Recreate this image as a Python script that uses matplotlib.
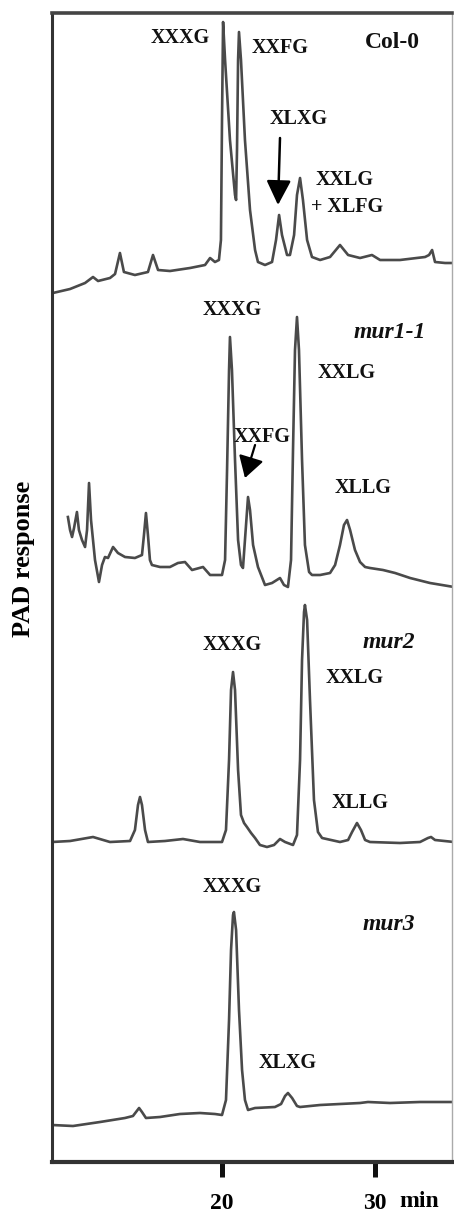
import numpy as np
import matplotlib
matplotlib.use('Agg')
from matplotlib import pyplot as plt

plt.rcParams['font.family'] = ['Liberation Serif', 'DejaVu Serif']
plt.rcParams['font.weight'] = 'bold'

# retention time (min) and PAD response (stacked, arbitrary units)
col0_t = [8.95, 10.07, 11.05, 11.57, 11.90, 12.68, 13.01, 13.33, 13.59, 14.31, 15.16, 15.49, 15.82,
          16.60, 17.91, 18.89, 19.22, 19.54, 19.80, 19.93, 20.00, 20.07, 20.20, 20.52, 20.85, 20.92,
          20.98, 21.05, 21.11, 21.24, 21.50, 21.83, 22.16, 22.35, 22.81, 23.27, 23.53, 23.73, 23.92,
          24.25, 24.44, 24.71, 24.90, 25.10, 25.29, 25.56, 25.88, 26.41, 27.06, 27.71, 28.24, 29.02,
          29.80, 30.33, 31.63, 33.27, 33.53, 33.73, 33.92, 34.58, 35.16]
col0_y = [869, 873, 879, 885, 881, 884, 888, 909, 890, 887, 890, 907, 892,
          891, 894, 897, 904, 900, 902, 922, 1042, 1140, 1102, 1022, 967, 962,
          1012, 1102, 1130, 1102, 1022, 952, 912, 900, 897, 900, 922, 947, 927,
          907, 907, 927, 967, 984, 962, 922, 905, 902, 905, 917, 907, 904,
          907, 902, 902, 905, 907, 912, 900, 899, 899]

mur1_t = [9.93, 10.07, 10.20, 10.33, 10.52, 10.65, 10.85, 11.05, 11.18, 11.31, 11.44, 11.70, 11.96,
          12.16, 12.35, 12.55, 12.88, 13.20, 13.66, 14.31, 14.77, 14.90, 15.03, 15.16, 15.29, 15.42,
          15.95, 16.60, 17.12, 17.58, 18.04, 18.76, 19.22, 20.00, 20.20, 20.33, 20.46, 20.52, 20.65,
          20.85, 21.05, 21.24, 21.37, 21.50, 21.70, 21.83, 22.03, 22.35, 22.81, 23.27, 23.79, 24.05,
          24.31, 24.51, 24.64, 24.77, 24.90, 25.03, 25.23, 25.42, 25.69, 25.88, 26.41, 27.06, 27.39,
          27.71, 27.97, 28.17, 28.37, 28.69, 29.02, 29.35, 29.67, 30.52, 31.31, 32.29, 33.59, 35.16]
mur1_y = [645, 632, 625, 634, 650, 632, 622, 615, 632, 679, 642, 602, 580,
          597, 605, 604, 615, 609, 605, 604, 607, 627, 649, 627, 602, 597,
          595, 595, 599, 600, 592, 595, 587, 587, 602, 692, 792, 825, 792,
          702, 622, 597, 594, 622, 665, 652, 617, 595, 577, 579, 584, 577,
          575, 602, 712, 812, 845, 812, 702, 617, 590, 587, 587, 589, 597,
          617, 637, 642, 632, 612, 600, 595, 594, 592, 589, 584, 579, 575]

mur2_t = [8.89, 10.07, 11.57, 12.68, 13.99, 14.31, 14.51, 14.64, 14.77, 14.97, 15.16, 16.27, 17.45,
          18.56, 20.00, 20.26, 20.46, 20.59, 20.72, 20.85, 21.05, 21.24, 21.44, 21.63, 21.90, 22.16,
          22.48, 22.94, 23.40, 23.79, 24.12, 24.64, 24.90, 25.10, 25.23, 25.36, 25.42, 25.56, 25.75,
          26.01, 26.27, 26.54, 27.71, 28.24, 28.50, 28.82, 29.08, 29.35, 29.67, 31.63, 32.94, 33.46,
          33.66, 33.92, 35.16]
mur2_y = [320, 321, 325, 320, 321, 332, 357, 365, 357, 332, 320, 321, 323,
          320, 320, 332, 402, 472, 490, 472, 392, 347, 339, 335, 329, 324,
          317, 315, 317, 323, 320, 317, 327, 402, 502, 550, 557, 542, 462,
          362, 330, 324, 320, 322, 330, 339, 332, 322, 320, 319, 320, 324,
          325, 322, 320]

mur3_t = [8.89, 10.26, 12.03, 13.66, 14.18, 14.38, 14.58, 14.77, 15.03, 15.95, 17.25, 18.56, 19.54,
          20.00, 20.26, 20.46, 20.59, 20.72, 20.78, 20.92, 21.11, 21.31, 21.50, 21.70, 22.16, 23.46,
          23.86, 24.12, 24.31, 24.58, 24.90, 25.10, 26.41, 27.71, 29.02, 29.54, 30.98, 32.94, 35.16]
mur3_y = [37, 36, 40, 44, 46, 50, 54, 50, 44, 45, 48, 49, 48,
          47, 62, 142, 212, 247, 250, 232, 152, 92, 62, 52, 54, 55,
          58, 66, 69, 64, 56, 55, 57, 58, 59, 60, 59, 60, 60]

traces = [(col0_t, col0_y), (mur1_t, mur1_y), (mur2_t, mur2_y), (mur3_t, mur3_y)]

# peak labels: (text, time, response)
peak_labels = [('XXXG', 17.25, 1124), ('XXFG', 23.79, 1114), ('XLXG', 25.03, 1043),
               ('XXLG', 28.04, 982), ('+ XLFG', 28.17, 955),
               ('XXXG', 20.65, 852), ('XXLG', 28.17, 789), ('XXFG', 22.61, 725), ('XLLG', 29.22, 674),
               ('XXXG', 20.65, 517), ('XXLG', 28.69, 484), ('XLLG', 29.02, 359),
               ('XXXG', 20.65, 275), ('XLXG', 24.31, 99)]
strains = [('Col-0', 31.11, 1119, 'normal'), ('mur1-1', 30.98, 829, 'italic'),
           ('mur2', 30.92, 520, 'italic'), ('mur3', 30.92, 237, 'italic')]

fig = plt.figure(figsize=(4.54, 12.12), dpi=100)
ax = fig.add_axes([52/454, 50/1212, 400/454, 1149/1212])

for t, y in traces:
    ax.plot(t, y, color='#4a4a4a', lw=1.9, solid_joinstyle='round')

for s, t, y in peak_labels:
    ax.text(t, y, s, ha='center', va='center', fontsize=14.5, fontweight='bold', color='#111111')

for s, t, y, st in strains:
    ax.text(t, y, s, ha='center', va='center', fontsize=17, fontweight='bold', style=st, color='#111111')

# arrows
ax.annotate('', xy=(23.66, 957), xytext=(23.79, 1024),
            arrowprops=dict(arrowstyle='-|>,head_length=1.0,head_width=0.5', mutation_scale=15,
                            lw=1.8, color='black', shrinkA=0, shrinkB=0))
ax.annotate('', xy=(21.50, 684), xytext=(22.16, 717),
            arrowprops=dict(arrowstyle='-|>,head_length=1.0,head_width=0.6', mutation_scale=13,
                            lw=1.6, color='black', shrinkA=0, shrinkB=0))

ax.set_xlim(8.89, 35.03)
ax.set_ylim(0, 1149)
ax.set_yticks([])
ax.set_xticks([20, 30])
ax.set_xticklabels(['20', '30'])
ax.tick_params(axis='x', direction='out', length=11, width=3.6, pad=11, labelsize=17, color='#111111')
for lab in ax.get_xticklabels():
    lab.set_fontweight('bold')
ax.text(32.88, -0.0348, 'min', transform=ax.get_xaxis_transform(), ha='center', va='center',
        fontsize=17, fontweight='bold')

ax.spines['left'].set_linewidth(2.2)
ax.spines['left'].set_color('#333333')
ax.spines['bottom'].set_linewidth(3)
ax.spines['bottom'].set_color('#333333')
ax.spines['top'].set_linewidth(2.6)
ax.spines['top'].set_color('#444444')
ax.spines['right'].set_linewidth(1.0)
ax.spines['right'].set_color('#aaaaaa')

fig.text(24/454, 1 - 559/1212, 'PAD response', rotation=90, ha='center', va='center',
         fontsize=19, fontweight='bold')

fig.savefig('out.png', dpi=100)
